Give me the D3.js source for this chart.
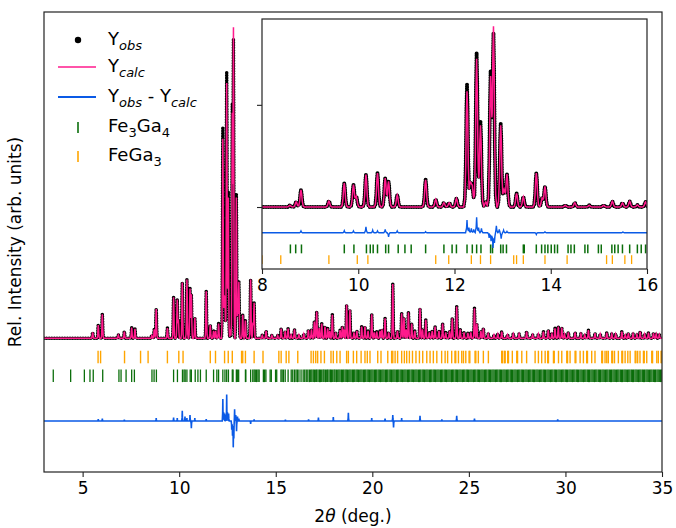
<!DOCTYPE html>
<html><head><meta charset="utf-8">
<script src="https://cdn.jsdelivr.net/npm/d3@7"></script>
<style>body{margin:0;background:#fff} svg text{font-family:"DejaVu Sans",sans-serif}</style>
</head><body><svg id="c" width="676" height="528"></svg>
<script>
// ---- data (2θ in degrees, intensities in relative units; main peak = 100) ----
const peakPos = [5.52,5.81,6.02,6.85,7.16,7.54,7.71,
  8.58,8.71,8.81,9.39,9.71,9.90,9.96,10.16,10.40,10.56,10.63,10.81,11.40,11.61,11.78,11.89,12.04,
  12.26,12.33,12.37,12.46,12.54,12.65,12.75,12.81,12.96,13.03,13.09,13.29,13.43,13.70,13.82,13.88,
  14.30,14.50,14.80,15.10,15.28,15.49,15.64,15.80,15.97,16.20,16.45,16.69,16.85,17.00,17.12,17.25,17.38,17.55,17.69,17.80,17.93,
  18.10,18.33,18.45,18.55,18.67,18.84,19.05,19.20,19.45,19.62,19.78,19.97,20.10,20.23,20.40,20.50,20.66,20.85,21.06,21.30,21.52,21.64,21.75,21.87,
  22.04,22.20,22.47,22.60,22.77,22.95,23.10,23.25,23.45,23.64,23.80,24.00,24.14,24.37,24.55,24.75,24.95,25.10,25.29,25.41,25.62,25.75,
  26.00,26.30,26.50,26.70,27.00,27.30,27.60,27.99,28.30,28.60,28.86,29.11,29.30,29.46,29.63,29.81,29.95,30.15,30.50,30.80,31.00,31.19,31.53,31.80,
  32.14,32.40,32.60,32.92,33.10,33.26,33.50,33.70,33.87,34.10,34.30,34.56,34.70,34.86];
const peakObs = [2.0,4.5,8.2,1.1,2.3,3.6,3.2,
  1.0,3.0,10,3.5,14,13,6,19,20,17,15,7,16,4.5,2.5,2.5,5,
  72,13,11,90.5,50,3,77,100,49,10,19,8,6,20,5,12,
  1.0,2.5,1.0,1.0,3.3,2.4,3.3,1.2,3.0,1.2,1.5,2.8,3.0,5.7,9.1,3.5,5.0,4.0,3.4,2.5,8.0,
  2.0,2.8,4.0,3.0,11.4,9.7,2.0,2.5,4.0,4.0,2.5,8.2,2.0,2.3,2.5,3.0,6.8,2.0,18.5,2.5,8.5,7.0,3.0,8.9,
  5.0,2.5,10.2,3.0,6.3,2.0,2.5,4.0,2.5,5.0,2.0,2.5,6.8,10.8,3.0,2.0,1.8,2.0,10.2,5.0,2.5,3.4,
  1.5,1.2,1.5,2.3,1.2,1.5,1.5,2.3,1.2,1.5,2.3,2.8,1.5,3.4,4.0,3.6,1.5,2.0,2.0,1.5,1.2,2.8,1.7,1.5,
  1.9,1.5,1.5,2.3,1.2,1.7,1.5,1.3,2.3,1.5,1.9,1.7,1.5,1.3];
// Ycalc equals Yobs except at these peaks
const calcPos = [12.26,12.46,12.54,12.75,12.81,12.96];
const calcVal = [68,87,48,74,104,48];
// Yobs - Ycalc spikes
const diffPos = [5.81,6.02,7.16,8.81,9.71,9.90,10.16,10.30,10.40,10.56,10.63,10.81,11.40,
  12.26,12.30,12.35,12.40,12.46,12.50,12.56,12.72,12.76,12.80,12.83,12.87,12.93,12.97,13.02,13.09,13.70,13.88,
  15.50,16.70,17.21,17.98,18.76,19.97,20.66,21.06,21.10,21.52,22.47,23.60,24.37,25.29,29.60];
const diffVal = [0.6,0.8,0.4,1.0,1.2,1.0,3.5,1.5,1.0,2.0,-2.5,1.0,0.6,
  7.5,3,2.5,2,9,3,2.5,-3,-5,-9,-6,4,2,-3.5,1.5,0.8,-1.0,0.5,
  0.4,0.5,1.2,1.3,2.8,1.0,0.8,2.0,-2.2,1.0,1.8,0.5,1.8,0.8,0.5];
// reflection markers
const fe3ga4Ticks = [3.48,4.38,5.09,5.38,5.55,6.04,6.88,6.99,7.25,7.54,7.68,8.59,8.70,8.82,9.71,9.91,10.17,10.25,10.31,10.40,10.57,10.63,10.83,10.97,11.10,11.40,11.78,11.95,12.04,12.26,12.37,12.46,12.55,12.75,12.79,12.96,13.01,13.08,13.43,13.45,13.70,13.81,13.88,13.94,14.01,14.08,14.14,14.36,14.42,14.49,14.71,14.77,14.99,15.05,15.27,15.33,15.40,15.49,15.64,15.80,15.88,15.97,16.05,16.12,16.20,16.31,16.42,16.50,16.58,16.66,16.74,
16.81,16.87,16.94,17.00,17.07,17.12,17.19,17.26,17.31,17.38,17.45,17.50,17.57,17.64,17.69,17.76,17.83,17.88,17.95,18.02,18.07,18.14,18.21,18.27,18.33,18.40,18.46,18.52,18.59,18.65,18.71,18.78,18.84,18.90,18.97,19.03,19.09,19.16,19.22,19.28,19.35,19.41,19.47,19.54,19.60,19.66,19.73,19.79,19.85,19.92,19.98,20.04,20.11,20.17,20.23,20.30,20.36,20.42,20.49,20.55,20.61,20.68,20.74,20.80,20.87,20.93,20.99,21.06,21.12,21.18,21.25,21.31,21.37,21.44,21.50,21.56,21.63,21.69,21.75,21.82,21.88,21.94,22.01,22.07,22.13,22.20,22.26,22.32,22.39,22.45,22.51,22.58,22.64,22.70,22.77,22.83,22.89,22.96,23.02,23.08,23.15,23.21,23.27,23.34,23.40,23.46,23.53,23.59,23.65,23.72,23.78,23.84,23.91,23.97,24.03,24.10,24.16,24.22,24.29,24.35,24.41,24.48,24.54,24.60,24.67,24.73,24.79,24.86,24.92,24.98,25.05,25.11,25.17,25.24,25.30,25.36,25.43,25.49,25.55,25.62,25.68,25.74,25.81,25.87,25.93,26.00,26.06,26.12,26.19,26.25,26.31,26.38,26.44,26.50,26.57,26.63,26.69,26.76,26.82,26.88,26.95,27.01,27.07,27.14,27.20,27.26,27.33,27.39,27.45,27.52,27.58,27.64,27.71,27.77,27.83,27.90,27.96,28.02,28.09,28.15,28.21,28.28,28.34,28.40,28.47,28.53,28.59,28.66,28.72,28.78,28.85,28.91,28.97,29.04,29.10,29.16,29.23,29.29,29.35,29.42,29.48,29.54,29.61,29.67,29.73,29.80,29.86,29.92,29.99,30.05,30.11,30.18,30.24,30.30,30.37,30.43,30.49,30.56,30.62,30.68,30.75,30.81,30.87,30.94,31.00,31.06,31.13,31.19,31.25,31.32,31.38,31.44,31.51,31.57,31.63,31.70,31.76,31.82,31.89,31.95,32.01,32.08,32.14,32.20,32.27,32.33,32.39,32.46,32.52,32.58,32.65,32.71,32.77,32.84,32.90,32.96,33.03,33.09,33.15,33.22,33.28,33.34,33.41,33.47,33.53,33.60,33.66,33.72,33.79,33.85,33.91,33.98,34.04,34.10,34.17,34.23,34.29,34.36,34.42,34.48,34.55,34.61,34.67,34.74,34.80,34.86,34.93,34.99];
const fega3Ticks = [5.80,5.93,7.17,8.00,8.39,9.39,9.98,10.20,11.61,11.88,12.35,12.54,12.75,13.23,13.29,13.43,13.88,14.34,15.16,15.28,15.54,15.68,
  16.14,16.83,16.95,17.07,17.17,17.34,17.52,17.86,17.98,18.16,18.33,18.67,18.76,19.02,19.19,19.42,19.62,19.74,19.88,20.28,20.45,20.80,21.00,21.06,21.18,21.31,21.52,21.66,21.78,21.92,22.08,22.26,22.44,22.61,22.82,22.99,23.16,23.34,23.59,23.77,23.90,24.11,24.28,24.32,24.46,24.63,
  24.72,24.84,25.01,25.05,25.32,25.36,25.49,25.75,26.01,26.70,26.74,26.84,26.88,27.01,27.05,27.25,27.48,27.52,27.74,27.99,28.43,28.60,28.77,28.95,29.08,29.12,29.38,29.42,29.64,29.81,30.07,30.11,30.24,30.50,30.54,30.76,30.93,31.10,31.14,31.36,31.53,31.88,31.92,32.05,32.14,32.22,32.40,32.44,32.54,32.74,32.92,32.96,33.09,33.23,33.35,33.61,33.65,33.74,33.86,34.04,34.08,34.21,34.47,34.51,34.73,34.81,34.95,34.99];
const xTicks = [5,10,15,20,25,30,35];
const insetXTicks = [8,10,12,14,16];
const insetYTicks = [0,60];

// ---- peak shape templates (style) ----
const TPL_X = [-0.07,-0.045,-0.027,-0.013,0,0.013,0.027,0.045,0.07];
const TPL_Y = [0,0.07,0.35,0.8,1,0.8,0.35,0.07,0];
const DTP_X = [-0.03,-0.01,0,0.01,0.03];
const DTP_Y = [0,0.35,1,0.35,0];
function interp(tx,ty,d){
  for(let k=0;k<tx.length-1;k++){ if(d>=tx[k]&&d<=tx[k+1]){ const t=(d-tx[k])/(tx[k+1]-tx[k]); return ty[k]+t*(ty[k+1]-ty[k]); } }
  return 0;
}
function profile(pos,h,tx,ty){
  const xs=[3,35];
  pos.forEach(p=>tx.forEach(o=>xs.push(p+o)));
  xs.sort((a,b)=>a-b);
  return xs.map(xv=>{ let s=0; pos.forEach((p,i)=>{ const d=xv-p; if(d>tx[0]&&d<tx[tx.length-1]) s+=h[i]*interp(tx,ty,d); }); return [xv,s]; });
}
const peakCalc = peakPos.map((p,i)=>{ const j=calcPos.indexOf(p); return j>=0?calcVal[j]:peakObs[i]; });
const obsData = profile(peakPos,peakObs,TPL_X,TPL_Y);
const calcData = profile(peakPos,peakCalc,TPL_X,TPL_Y);
const diffData = profile(diffPos,diffVal,DTP_X,DTP_Y);

const PINK="#ff1a8c", BLUE="#0a5ae6", GREEN="#0b6e0b", ORANGE="#ffa500";
const FONT='"DejaVu Sans",sans-serif';
const svg=d3.select('#c');

function drawPanel(g,x,y,o,clipId){
  const cg=g.append('g').attr('clip-path',`url(#${clipId})`);
  const line=d3.line().x(d=>x(d[0])).y(d=>y(d[1]));
  const tickRow=(arr,col,center,half,w)=>cg.append('g').selectAll('line').data(arr).join('line')
    .attr('x1',d=>x(d)).attr('x2',d=>x(d)).attr('y1',y(center+half)).attr('y2',y(center-half))
    .attr('stroke',col).attr('stroke-width',w);
  tickRow(fega3Ticks,ORANGE,o.orange,o.half,o.ow);
  tickRow(fe3ga4Ticks,GREEN,o.green,o.half,o.gw);
  cg.append('path').datum(diffData.map(d=>[d[0],d[1]+o.diff])).attr('d',line)
    .attr('fill','none').attr('stroke',BLUE).attr('stroke-width',o.dw);
  cg.append('path').datum(obsData).attr('d',line).attr('fill','none').attr('stroke','#000')
    .attr('stroke-width',o.dot).attr('stroke-dasharray',`0 ${o.gap}`).attr('stroke-linecap','round');
  cg.append('path').datum(calcData).attr('d',line).attr('fill','none').attr('stroke',PINK).attr('stroke-width',1.5);
}

// main axes
const M={l:44,r:662,t:12,b:472};
const x=d3.scaleLinear().domain([3,35]).range([M.l,M.r]);
const y=d3.scaleLinear().domain([-45.6,111.25]).range([M.b,M.t]);
const defs=svg.append('defs');
defs.append('clipPath').attr('id','cm').append('rect').attr('x',M.l).attr('y',M.t).attr('width',M.r-M.l).attr('height',M.b-M.t);
const gm=svg.append('g');
drawPanel(gm,x,y,{orange:-6.4,green:-12.8,half:2.15,diff:-28.2,dw:1.6,dot:3.6,gap:2.6,ow:1.4,gw:1.3},'cm');
gm.append('rect').attr('x',M.l).attr('y',M.t).attr('width',M.r-M.l).attr('height',M.b-M.t)
  .attr('fill','none').attr('stroke','#222').attr('stroke-width',1.2);
const ax=gm.append('g').attr('transform',`translate(0,${M.b})`)
  .call(d3.axisBottom(x).tickValues(xTicks).tickSize(5).tickSizeOuter(0).tickPadding(5));
ax.select('.domain').remove();
ax.selectAll('text').attr('font-size',17).attr('font-family',FONT).attr('fill','#000');
ax.selectAll('line').attr('stroke','#222').attr('stroke-width',1.1);
const xl=svg.append('text').attr('x',(M.l+M.r)/2).attr('y',522).attr('text-anchor','middle').attr('font-size',17);
xl.append('tspan').text('2');
xl.append('tspan').attr('font-style','italic').text('θ');
xl.append('tspan').text(' (deg.)');
svg.append('text').attr('transform',`translate(21,${(M.t+M.b)/2}) rotate(-90)`).attr('text-anchor','middle')
  .attr('font-size',17).text('Rel. Intensity (arb. units)');

// inset
const I={l:262,r:647,t:19,b:269};
const xi=d3.scaleLinear().domain([8,16]).range([I.l,I.r]);
const yi=d3.scaleLinear().domain([-36.4,110.4]).range([I.b,I.t]);
defs.append('clipPath').attr('id','ci').append('rect').attr('x',I.l).attr('y',I.t).attr('width',I.r-I.l).attr('height',I.b-I.t);
const gi=svg.append('g');
gi.append('rect').attr('x',I.l).attr('y',I.t).attr('width',I.r-I.l).attr('height',I.b-I.t).attr('fill','#fff');
drawPanel(gi,xi,yi,{orange:-30.9,green:-24.6,half:2.6,diff:-15.1,dw:1.4,dot:4.0,gap:2.4,ow:1.3,gw:1.5},'ci');
gi.append('rect').attr('x',I.l).attr('y',I.t).attr('width',I.r-I.l).attr('height',I.b-I.t)
  .attr('fill','none').attr('stroke','#222').attr('stroke-width',1.2);
const axi=gi.append('g').attr('transform',`translate(0,${I.b})`)
  .call(d3.axisBottom(xi).tickValues(insetXTicks).tickSize(5).tickSizeOuter(0).tickPadding(5));
axi.select('.domain').remove();
axi.selectAll('text').attr('font-size',17).attr('font-family',FONT).attr('fill','#000');
axi.selectAll('line').attr('stroke','#222').attr('stroke-width',1.1);
const ayi=gi.append('g').attr('transform',`translate(${I.l},0)`)
  .call(d3.axisLeft(yi).tickValues(insetYTicks).tickSize(5).tickSizeOuter(0).tickFormat(''));
ayi.select('.domain').remove();
ayi.selectAll('line').attr('stroke','#222').attr('stroke-width',1.1);

// legend
const lg=svg.append('g').attr('font-size',18);
const rows=[40,67,97,127,156];
lg.append('circle').attr('cx',78).attr('cy',rows[0]).attr('r',3.2).attr('fill','#000');
lg.append('line').attr('x1',58).attr('x2',96).attr('y1',rows[1]).attr('y2',rows[1]).attr('stroke',PINK).attr('stroke-width',1.5);
lg.append('line').attr('x1',58).attr('x2',96).attr('y1',rows[2]).attr('y2',rows[2]).attr('stroke',BLUE).attr('stroke-width',2);
lg.append('line').attr('x1',78).attr('x2',78).attr('y1',rows[3]-5).attr('y2',rows[3]+6).attr('stroke',GREEN).attr('stroke-width',1.6);
lg.append('line').attr('x1',78).attr('x2',78).attr('y1',rows[4]-5).attr('y2',rows[4]+6).attr('stroke',ORANGE).attr('stroke-width',1.6);
function ltext(yy,parts){
  const t=lg.append('text').attr('x',108).attr('y',yy+6);
  let shift=0;
  parts.forEach(p=>{
    const s=t.append('tspan').text(p.t);
    const want=p.sub?5:0;
    if(want!==shift){ s.attr('dy',want-shift); shift=want; }
    if(p.sub){ s.attr('font-size',13); }
    if(p.it){ s.attr('font-style','italic'); }
  });
}
ltext(rows[0]-1,[{t:'Y'},{t:'obs',sub:1,it:1}]);
ltext(rows[1]-1,[{t:'Y'},{t:'calc',sub:1,it:1}]);
ltext(rows[2]-1,[{t:'Y'},{t:'obs',sub:1,it:1},{t:' - Y'},{t:'calc',sub:1,it:1}]);
ltext(rows[3]-1,[{t:'Fe'},{t:'3',sub:1},{t:'Ga'},{t:'4',sub:1}]);
ltext(rows[4]-1,[{t:'FeGa'},{t:'3',sub:1}]);
</script></body></html>
